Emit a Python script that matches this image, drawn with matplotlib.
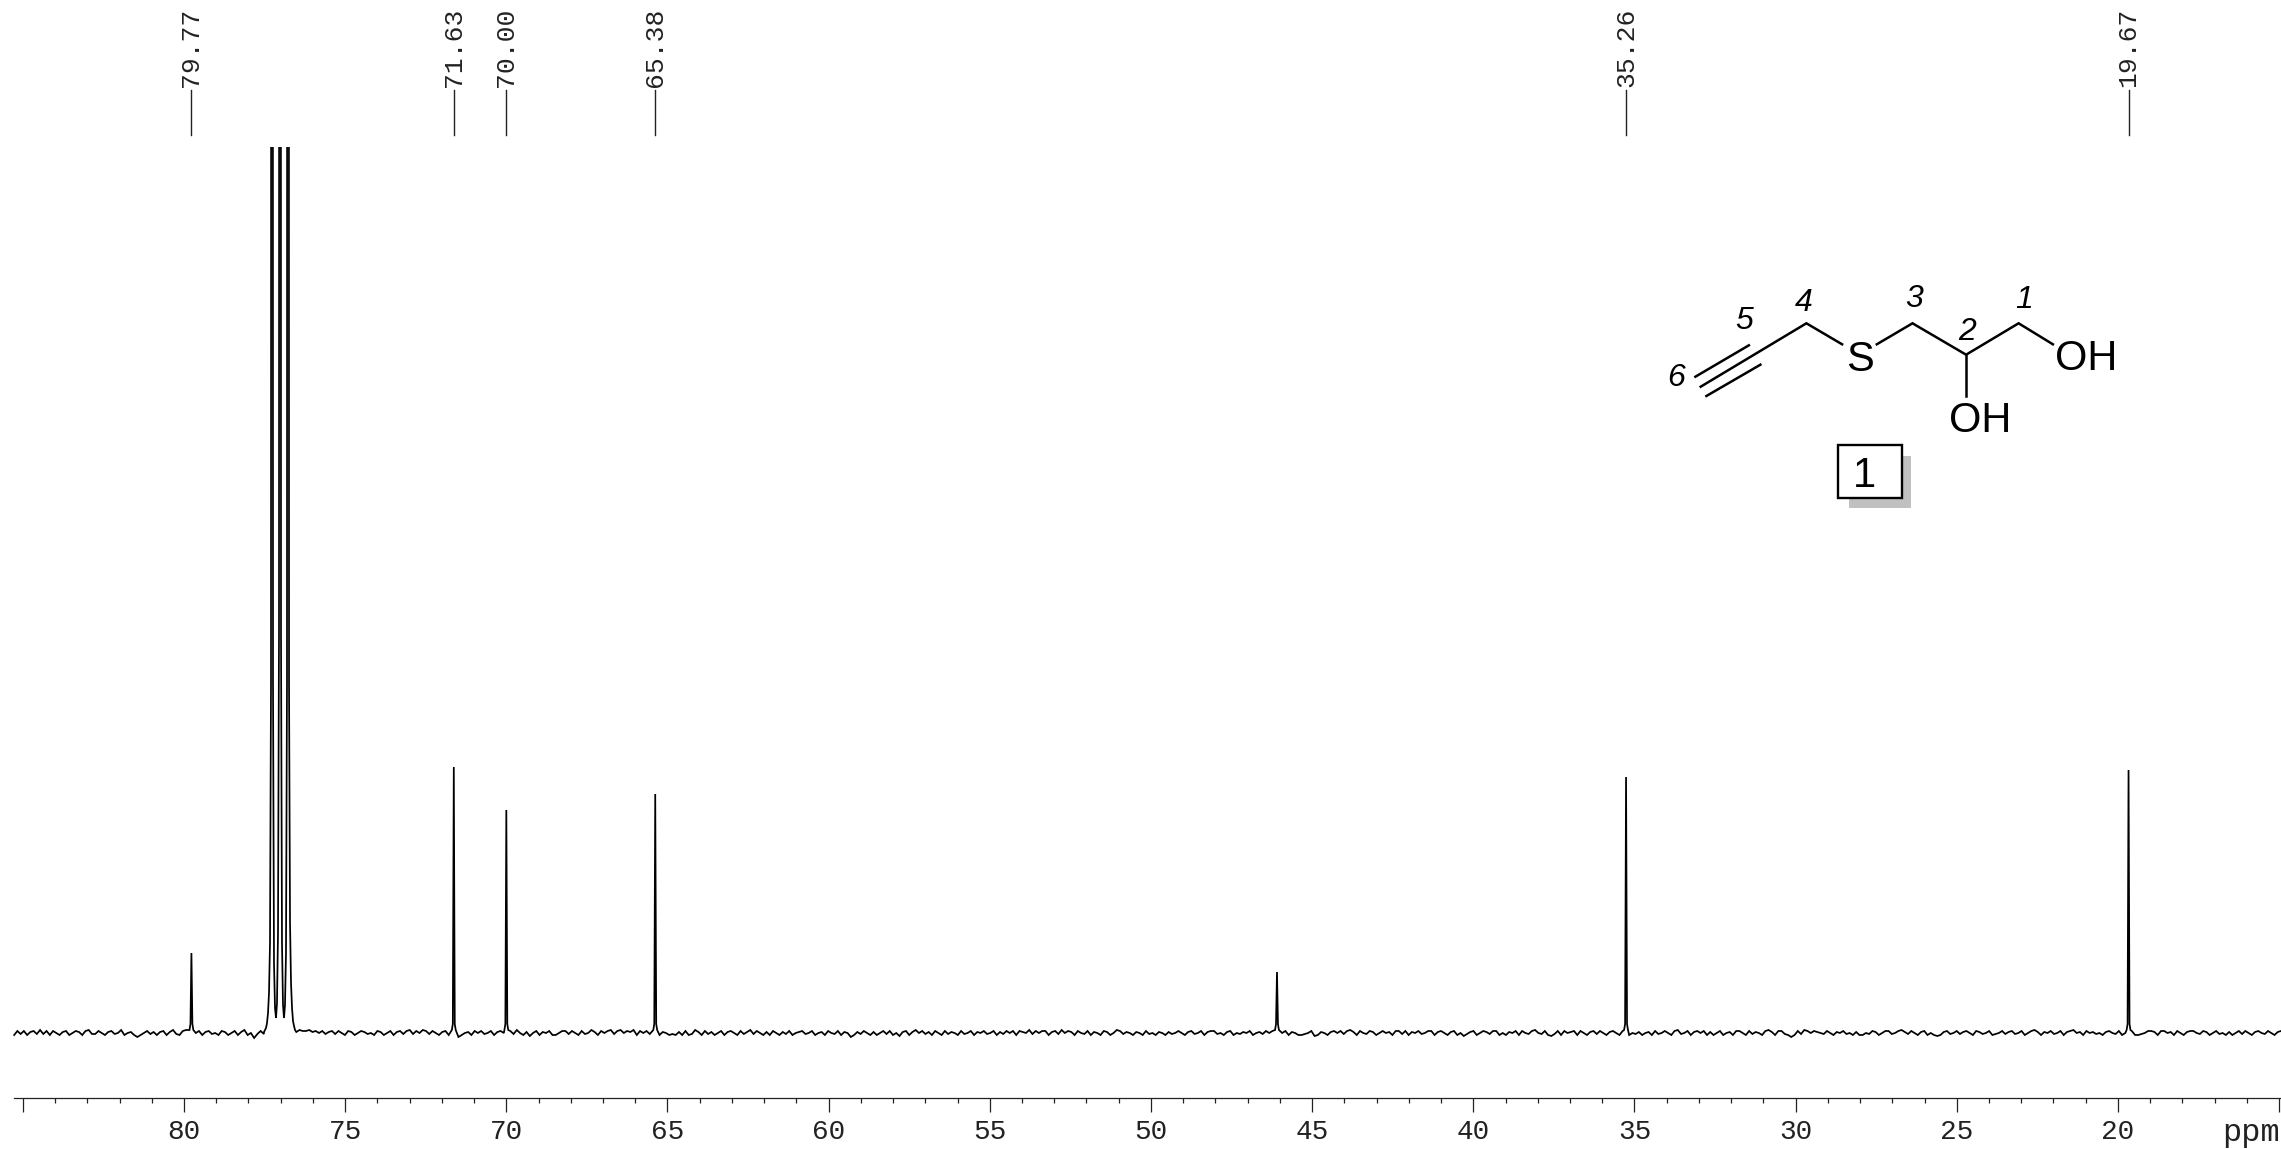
import numpy as np
import matplotlib
matplotlib.use('Agg')
import matplotlib.pyplot as plt
from matplotlib.patches import Rectangle
from matplotlib.transforms import blended_transform_factory

W, H = 2281, 1149
MONO = 'Liberation Mono'
SANS = 'Liberation Sans'

# baseline noise (height above the mean baseline), left to right
baseline = [
 -2,2,-1,2,-2,1,2,-1,3,-1,2,-2,2,0,-2,1,2,-2,0,2,
 1,-2,2,3,-1,-1,2,0,-2,1,2,-1,0,3,-2,0,1,-2,-4,-2,
 0,2,-1,1,-2,1,2,-2,1,3,-1,-2,2,3,-1,2,0,2,-2,1,
 2,-1,0,-2,2,1,-2,0,2,-2,1,3,-2,0,-5,-1,2,-1,1,-2,
 0,2,-2,1,-2,2,0,1,3,2,2,3,1,2,0,2,-1,1,2,-1,
 2,0,-2,2,1,-2,0,2,1,-1,0,-2,2,1,-2,0,2,-2,1,2,
 -1,2,3,-1,2,0,3,2,-1,2,0,-2,1,2,-2,0,2,-4,-2,0,
 1,-2,2,0,2,-1,0,2,-2,1,2,0,-2,2,-1,3,0,-2,1,-3,
 0,2,-2,1,0,2,-2,-2,0,2,2,-1,2,0,-2,2,-1,0,3,1,
 -2,2,0,2,3,-1,2,3,0,2,1,3,-2,2,0,2,-1,0,2,-2,
 1,0,-2,-1,-2,1,-2,2,-2,-1,3,1,-2,2,-1,1,-2,0,2,-2,
 1,2,0,-2,2,-1,1,3,-1,2,0,-2,1,-2,2,0,-2,1,-1,2,
 -2,0,1,2,-1,0,2,-2,0,1,-2,2,0,-1,2,-2,1,0,-4,-2,
 1,-1,2,0,-2,1,-2,0,2,-1,2,-2,0,-3,1,2,-2,1,3,0,
 2,-1,1,-2,2,0,-2,2,-1,1,0,-2,2,-1,0,2,-2,1,0,2,
 -1,0,2,-2,1,-1,2,0,2,-2,2,1,0,3,-1,2,0,2,2,-2,
 1,2,-1,3,0,2,1,-2,2,0,-1,2,-2,1,0,-2,2,1,-2,0,
 3,2,-1,1,0,-2,1,0,-2,2,-1,0,-2,1,0,-2,1,-1,0,2,
 0,-2,1,2,-1,0,2,-2,1,2,2,-1,0,-2,1,2,-2,0,-1,1,
 0,2,-2,0,1,-1,2,0,2,-1,1,0,2,-2,1,0,-2,-2,-1,0,
 2,-3,-2,1,0,-2,1,2,0,2,-1,2,3,1,-2,2,0,-1,2,1,
 -2,0,2,0,1,-2,2,2,-1,2,-2,1,0,2,-1,0,2,2,-2,1,
 2,0,-2,1,2,-2,0,-3,-1,1,2,-2,0,2,1,-1,2,2,-2,0,
 -2,1,0,2,-2,2,0,-1,2,3,0,-1,2,-2,-3,-1,2,-2,2,0,
 1,2,-2,2,0,-2,1,2,-1,2,0,-2,1,2,0,-2,2,1,-2,0,
 -1,1,-2,0,1,-2,2,-1,0,2,0,-2,2,3,-1,0,2,-2,1,2,
 0,2,-2,1,-2,0,2,-2,0,1,-2,2,2,0,-2,2,-1,1,0,-2,
 2,3,1,-2,2,2,-1,-2,-4,-2,2,-1,3,2,0,2,1,0,-1,2,
 0,-2,1,0,2,-1,0,-2,1,-2,-2,0,-1,2,1,-2,0,2,2,-1,
 0,2,3,1,-1,2,0,-2,1,2,-2,0,-2,-3,-2,1,2,-1,0,2,
 -1,1,2,0,-2,2,1,-1,0,2,-2,-1,0,2,-1,1,2,-1,0,2,
 -2,0,2,3,1,-2,1,0,2,-1,0,2,-2,1,2,3,0,1,-2,2,
 0,1,-1,0,-2,1,2,0,-1,2,-2,0,1,2,-2,-2,-1,0,2,2,
 1,-2,2,2,0,1,-2,2,0,-2,1,2,2,0,-1,2,1,-2,0,2,
 -1,0,-2,1,-2,0,2,-1,2,0,-2,1,2,0,-1,2,0,-2,1,2,
]
baseline_ppm_start = 85.27
baseline_ppm_end = 14.94

# single sharp peaks
peak_ppm = [79.77, 71.63, 70.00, 65.38, 46.09, 35.26, 19.67]
peak_height = [80, 266, 223, 239, 61, 256, 263]
flank_offset = [-0.06, -0.03, 0.03, 0.06]
flank_height = [3, 9, 9, 3]

# CDCl3 triplet, clipped by the top of the plot
solvent_ppm = [77.518, 77.456, 77.425, 77.394, 77.363, 77.332, 77.301, 77.270, 77.239, 77.208, 77.177,
               77.146, 77.115, 77.084, 77.053, 77.022, 76.991, 76.960, 76.929, 76.898, 76.867, 76.836,
               76.805, 76.773, 76.742, 76.711, 76.680, 76.649, 76.618, 76.587, 76.556]
solvent_height = [1, 5, 10, 20, 40, 90, 350, 6000, 350, 70, 25,
                  15, 30, 100, 400, 6000, 400, 90, 28, 15, 28, 80,
                  350, 6000, 350, 110, 50, 25, 12, 7, 3]

# labels above the spectrum
label_ppm = [79.77, 71.63, 70.00, 65.38, 35.26, 19.67]
label_text = ['79.77', '71.63', '70.00', '65.38', '35.26', '19.67']

major_ticks = [85, 80, 75, 70, 65, 60, 55, 50, 45, 40, 35, 30, 25, 20, 15]
major_labels = ['', '80', '75', '70', '65', '60', '55', '50', '45', '40', '35', '30', '25', '20', '']
minor_ticks = [m for m in range(15, 86) if m % 5 != 0]

# structure drawing, in pixels of the picture
bonds = [
    [(1700.7, 386.7), (1806.4, 323.3), (1842.1, 344.3)],
    [(1695.4, 376.7), (1748.9, 345.3)],
    [(1706.4, 396.0), (1760.4, 364.7)],
    [(1876.8, 344.3), (1912.5, 323.3), (1966.1, 354.7), (2018.6, 323.3), (2052.9, 344.3)],
    [(1966.1, 354.7), (1966.1, 396.0)],
]
atoms = [('S', 1859.6, 360.0), ('OH', 2085.7, 359.5), ('OH', 1980.4, 421.5)]
numbers = [('6', 1676.0, 378.3), ('5', 1744.6, 321.0), ('4', 1803.6, 302.7),
           ('3', 1914.3, 299.0), ('2', 1966.8, 331.7), ('1', 2024.3, 300.0)]

# build the trace
base_x = np.linspace(baseline_ppm_start, baseline_ppm_end, len(baseline))
base_y = np.array(baseline, dtype=float)
keep = (base_x > 77.52) | (base_x < 76.55)
for p in peak_ppm:
    keep &= np.abs(base_x - p) > 0.07
xs = list(base_x[keep]) + solvent_ppm
ys = list(base_y[keep]) + solvent_height
for p, h in zip(peak_ppm, peak_height):
    xs.append(p)
    ys.append(h)
    for o, f in zip(flank_offset, flank_height):
        xs.append(p + o)
        ys.append(f)
order = np.argsort(xs)[::-1]
xs = np.array(xs)[order]
ys = np.array(ys)[order]

fig = plt.figure(figsize=(W / 100, H / 100), dpi=100)
axis_y = 1098
top_y = 147
base_y_px = 1033
ax = fig.add_axes([0, 1 - axis_y / H, 1, (axis_y - top_y) / H])
ax.plot(xs, ys, color='black', lw=1.25, solid_joinstyle='miter')
ax.set_xlim(85.709, 14.94)
ax.set_ylim(base_y_px - axis_y, base_y_px - top_y)

for s in ['top', 'left', 'right']:
    ax.spines[s].set_visible(False)
ax.spines['bottom'].set_linewidth(0.9)
ax.spines['bottom'].set_color('#222222')
ax.spines['bottom'].set_bounds(85.274, 14.94)
ax.set_yticks([])
ax.set_xticks(major_ticks)
ax.set_xticklabels(major_labels, fontfamily=MONO, fontsize=20, color='#222222')
ax.set_xticks(minor_ticks, minor=True)
ax.tick_params(axis='x', which='major', length=10, width=0.9, color='#222222', pad=5)
ax.tick_params(axis='x', which='minor', length=3.6, width=0.9, color='#222222')

# peak labels
tr = blended_transform_factory(ax.transData, fig.transFigure)
for p, t in zip(label_ppm, label_text):
    ax.plot([p, p], [1 - 90 / H, 1 - 135 / H], color='#222222', lw=1.0, transform=tr, clip_on=False)
    ax.text(p, 1 - 87 / H, t, rotation=90, ha='center', va='bottom', transform=tr,
            fontfamily=MONO, fontsize=19, color='#222222')

fig.text(2280 / W, 1 - 1133 / H, 'ppm', ha='right', va='center', fontfamily=MONO, fontsize=23, color='#222222')

# structure overlay
mol = fig.add_axes([0, 0, 1, 1])
mol.set_xlim(0, W)
mol.set_ylim(H, 0)
mol.axis('off')
mol.patch.set_visible(False)
for b in bonds:
    mol.plot([q[0] for q in b], [q[1] for q in b], color='black', lw=1.8, solid_joinstyle='miter')
for t, x, y in atoms:
    mol.text(x, y, t, ha='center', va='center', fontfamily=SANS, fontsize=30, color='black')
for t, x, y in numbers:
    mol.text(x, y, t, ha='center', va='center', fontfamily=SANS, fontsize=23, style='italic', color='black')
mol.add_patch(Rectangle((1849, 456), 62, 52, facecolor='#c0c0c0', edgecolor='none', zorder=2))
mol.add_patch(Rectangle((1838, 445), 64, 53, facecolor='white', edgecolor='black', lw=1.7, zorder=3))
mol.text(1864, 476, '1', ha='center', va='center', fontfamily=SANS, fontsize=30, color='black', zorder=4)

fig.savefig('out.png', dpi=100)
